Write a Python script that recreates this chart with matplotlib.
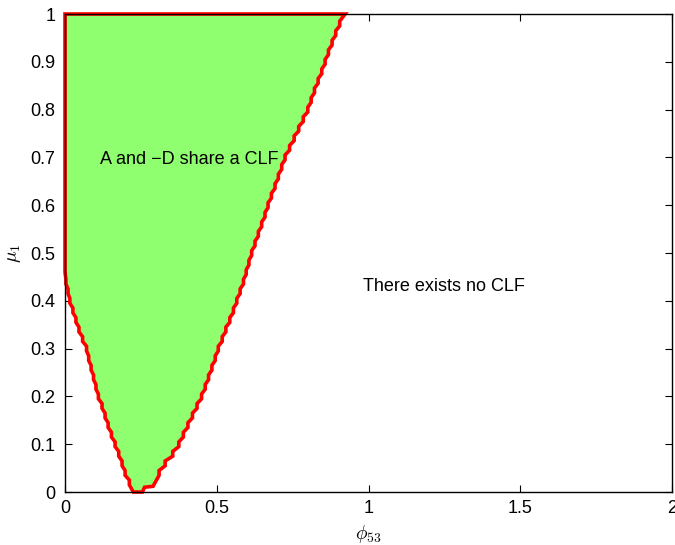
import numpy as np
import matplotlib
matplotlib.use("Agg")
import matplotlib.pyplot as plt

plt.rcParams['font.family'] = ['Liberation Sans', 'DejaVu Sans']
plt.rcParams['mathtext.fontset'] = 'cm'

# Left edge of the CLF region (phi_53 at given mu_1), bottom to top
left_mu = [0.02, 0.04, 0.06, 0.08, 0.10, 0.12, 0.14, 0.16, 0.18, 0.20, 0.22, 0.24,
           0.26, 0.28, 0.30, 0.32, 0.34, 0.36, 0.38, 0.40, 0.42, 0.44]
left_phi = [0.212, 0.198, 0.188, 0.177, 0.165, 0.153, 0.142, 0.132, 0.122, 0.110, 0.102, 0.094,
            0.086, 0.078, 0.071, 0.058, 0.046, 0.036, 0.026, 0.016, 0.010, 0.003]

# Right edge, bottom to top
right_mu = [0.04, 0.06, 0.08, 0.10, 0.12, 0.14, 0.16, 0.18, 0.20, 0.22, 0.24, 0.26, 0.28,
            0.30, 0.32, 0.34, 0.36, 0.38, 0.40, 0.42, 0.44, 0.46, 0.48, 0.50, 0.52, 0.54,
            0.56, 0.58, 0.60, 0.62, 0.64, 0.66, 0.68, 0.70, 0.72, 0.74, 0.76, 0.78, 0.80,
            0.82, 0.84, 0.86, 0.88, 0.90, 0.92, 0.94, 0.96, 0.98]
right_phi = [0.310, 0.330, 0.355, 0.375, 0.390, 0.405, 0.420, 0.435, 0.450, 0.462, 0.473, 0.484, 0.495,
             0.505, 0.518, 0.530, 0.543, 0.555, 0.566, 0.577, 0.588, 0.597, 0.606, 0.615, 0.626, 0.637,
             0.648, 0.659, 0.669, 0.680, 0.692, 0.703, 0.714, 0.725, 0.740, 0.755, 0.770, 0.785, 0.800,
             0.811, 0.822, 0.834, 0.846, 0.857, 0.868, 0.880, 0.892, 0.905]

# Corners of the region: top-left, top-right, flat bottom
top_phi_right = 0.923
bottom_phi = [0.225, 0.255, 0.262, 0.290]
bottom_mu = [0.000, 0.000, 0.010, 0.012]
corner_mu_left = 0.46


def staircase(phis, mus, half=0.005, upward=True):
    # contour-style edge: short vertical step at every sample
    xs, ys = [], []
    for p, m in zip(phis, mus):
        a, b = (m - half, m + half) if upward else (m + half, m - half)
        xs += [p, p]
        ys += [a, b]
    return xs, ys


lx, ly = staircase(left_phi[::-1], left_mu[::-1], upward=False)
rx, ry = staircase(right_phi, right_mu, upward=True)

phi = [0.0, 0.0] + lx + bottom_phi + rx + [top_phi_right]
mu = [1.0, corner_mu_left] + ly + bottom_mu + ry + [1.0]

fig = plt.figure(figsize=(6.75, 5.45), dpi=100)
ax = fig.add_axes([0.0963, 0.0972, 0.8993, 0.8771])

ax.fill(phi, mu, facecolor='#8fff6f', edgecolor='#ff0000', linewidth=2.6,
        joinstyle='miter', clip_on=False, zorder=2)

ax.text(0.41, 0.695, 'A and \u2212D share a CLF', fontsize=13, ha='center', va='center')
ax.text(1.25, 0.43, 'There exists no CLF', fontsize=13, ha='center', va='center')

ax.set_xlim(0, 2)
ax.set_ylim(0, 1)
ax.set_xticks([0, 0.5, 1, 1.5, 2])
ax.set_xticklabels(['0', '0.5', '1', '1.5', '2'])
ax.set_yticks(np.arange(0, 11) / 10)
ax.set_yticklabels(['0', '0.1', '0.2', '0.3', '0.4', '0.5', '0.6', '0.7', '0.8', '0.9', '1'])
ax.tick_params(direction='in', top=True, right=True, labelsize=13, length=5, width=0.8)
ax.tick_params(axis='x', pad=6)
ax.tick_params(axis='y', pad=7)
for s in ax.spines.values():
    s.set_linewidth(1.0)
    s.set_zorder(3)

ax.set_xlabel(r'$\phi_{53}$', fontsize=14, labelpad=4)
ax.set_ylabel(r'$\mu_1$', fontsize=14, labelpad=5)

fig.savefig('out.png', dpi=100)
